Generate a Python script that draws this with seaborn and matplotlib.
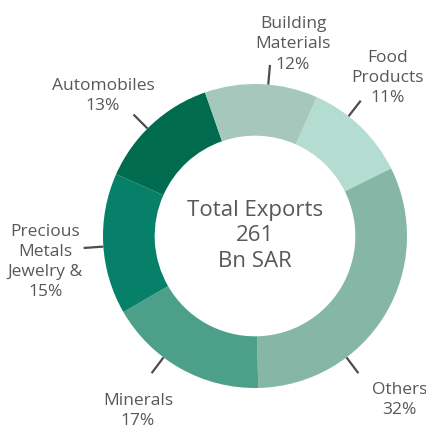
import numpy as np
import matplotlib
matplotlib.use("Agg")
import matplotlib.pyplot as plt
import seaborn as sns

# Data (clockwise order starting at Food Products)
categories = ["Food\nProducts", "Others", "Minerals",
              "Precious\nMetals\nJewelry &", "Automobiles", "Building\nMaterials"]
shares = [11, 32, 17, 15, 13, 12]
colors = ["#b5dcd1", "#86b6a6", "#4ca08a", "#078069", "#006b4f", "#a6c8bc"]
center_text = "Total Exports\n261\nBn SAR"

sns.set_theme(style="white")
plt.rcParams["font.family"] = ["Open Sans", "DejaVu Sans"]

fig = plt.figure(figsize=(4.27, 4.30), dpi=100)
ax = fig.add_axes([0, 0, 1, 1])

palette = sns.color_palette(colors)
wedges, _ = ax.pie(shares, colors=palette, startangle=66, counterclock=False,
                   radius=1.0, wedgeprops=dict(width=0.34, linewidth=0))

# label placement: (line angle in degrees clockwise from top, text x, text y)
label_pos = [(38, 0.875, 1.04), (143, 0.95, -1.08), (217, -0.77, -1.15),
             (266, -1.38, -0.17), (315, -1.0, 0.92), (5, 0.25, 1.26)]

txt_color = "#585858"
for cat, val, (ang, tx, ty) in zip(categories, shares, label_pos):
    a = np.deg2rad(ang)
    r0, r1 = 1.0, 1.13
    ax.plot([r0 * np.sin(a), r1 * np.sin(a)], [r0 * np.cos(a), r1 * np.cos(a)],
            color="#4d4d4d", lw=1.6, solid_capstyle="butt")
    ax.text(tx, ty, f"{cat}\n{val}%", ha="center", va="center", fontsize=12.5,
            color=txt_color, linespacing=1.35)

ax.text(0, 0.0, center_text, ha="center", va="center", fontsize=16,
        color=txt_color, linespacing=1.28)

sc = 152.0
ax.set_xlim(-255 / sc, (427 - 255) / sc)
ax.set_ylim(-(430 - 236) / sc, 236 / sc)
ax.set_aspect("auto")
ax.axis("off")

fig.savefig("out.png", dpi=100)
